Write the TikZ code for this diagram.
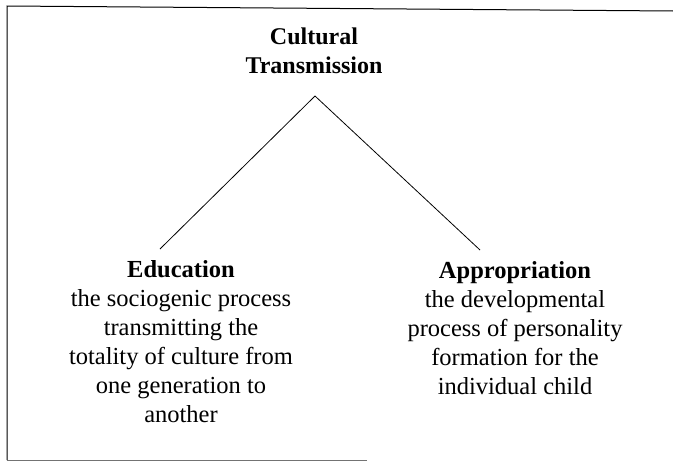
\documentclass[tikz,border=0pt]{standalone}
\usepackage{fontspec}
\setmainfont{Liberation Serif}
\tikzset{
  frameline/.style={line width=1pt, draw=black},
  framefade/.style={line width=1pt, draw=black!55},
  branch/.style={line width=0.8pt, draw=black},
  headtxt/.style={font=\fontsize{24}{29}\selectfont\bfseries, align=center, inner sep=0pt},
  bodytxt/.style={font=\fontsize{24.5}{29}\selectfont, align=center, inner sep=0pt},
}
\begin{document}
\begin{tikzpicture}[x=1pt,y=-1pt]
\useasboundingbox (0,0) rectangle (673,463);
% frame
\draw[frameline] (673,11) -- (7,6) -- (7,460);
\draw[framefade] (7,460) -- (367,460);
% title (base anchor = baseline of last line)
\node[headtxt, anchor=base] (title) at (314,74) {Cultural\\Transmission};
% branch points
\coordinate (apex) at (315,96);
\coordinate (lend) at (160,249);
\coordinate (rend) at (480,250);
\draw[branch] (apex) -- (lend);
\draw[branch] (apex) -- (rend);
% left
\node[bodytxt, anchor=base] (edu) at (181,422) {\textbf{Education}\\the sociogenic process\\transmitting the\\totality of culture from\\one generation to\\another};
% right
\node[bodytxt, anchor=base] (app) at (515,394) {\textbf{Appropriation}\\the developmental\\process of personality\\formation for the\\individual child};
\end{tikzpicture}
\end{document}
